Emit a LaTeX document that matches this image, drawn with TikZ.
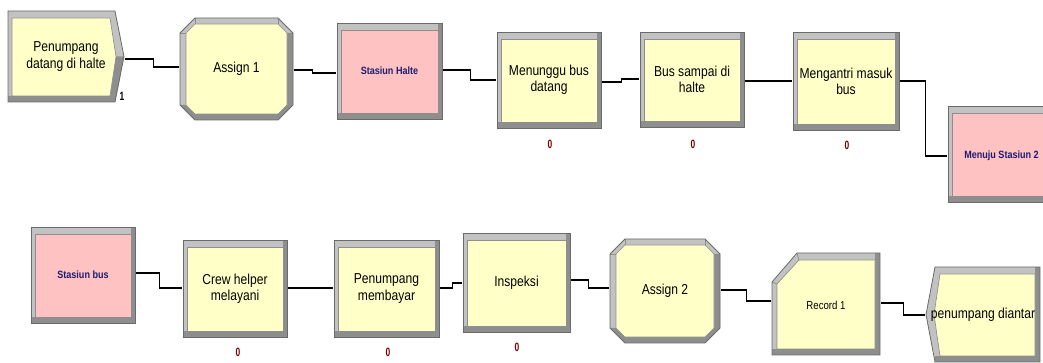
\documentclass[tikz,border=0pt]{standalone}
\usepackage{fontspec}
\newfontfamily\arenafont[FakeStretch=0.84]{Liberation Sans}
\newfontfamily\stnfont[FakeStretch=0.86]{Liberation Sans}
\newfontfamily\cntfont[FakeStretch=0.7]{Liberation Sans}
\usetikzlibrary{calc}

\definecolor{bevL}{HTML}{C2C2C2}
\definecolor{bevD}{HTML}{8E8E8E}
\definecolor{bevE}{HTML}{6A6A6A}
\definecolor{modY}{HTML}{FFFFC8}
\definecolor{modP}{HTML}{FFC2C2}
\definecolor{stnText}{HTML}{1C1C74}
\definecolor{cntText}{HTML}{7A0000}

\tikzset{
  modlabel/.style={shape=rectangle, inner sep=0pt, align=center, text=black,
    font=\arenafont\fontsize{10.8}{12.2}\selectfont},
  smalllabel/.style={modlabel, font=\arenafont\fontsize{8.6}{10}\selectfont},
  stnlabel/.style={modlabel, text=stnText, font=\stnfont\bfseries\fontsize{7.9}{9}\selectfont},
  cnt/.style={inner sep=0pt, text=cntText, font=\cntfont\bfseries\fontsize{9}{10}\selectfont},
  tag/.style={inner sep=0pt, text=black, font=\cntfont\bfseries\fontsize{9}{10}\selectfont},
  conn/.style={draw=black, line width=1.15pt},
  edge/.style={draw=bevE, line width=0.6pt},
  bevline/.style={draw=bevD, line width=0.5pt}
}

% text node covering a module's outline
\newcommand\modnode[7][modlabel]{%
  \pgfmathsetmacro\mw{(#5-#3)*0.75}%
  \pgfmathsetmacro\mh{(#6-#4)*0.75}%
  \node[#1, minimum width=\mw pt, minimum height=\mh pt] (#2) at ({(#3+#5)/2},{(#4+#6)/2}) {#7};}

% plain rectangular module with bevelled frame
\newcommand\rectmod[5]{%
  \fill[bevL] (#2,#3) rectangle (#4,#5);
  \fill[bevD] (#2,{#5-6}) rectangle (#4,#5);
  \fill[bevD] ({#4-4},#3) rectangle (#4,#5);
  \fill[#1, bevline] ({#2+4},{#3+7}) rectangle ({#4-4},{#5-6});
  \draw[edge] (#2,#3) rectangle (#4,#5);}

% octagonal assign module
\newcommand\octmod[4]{%
  \fill[bevL] ({#1+15},#2) -- ({#3-15},#2) -- (#3,{#2+15}) -- (#3,{#4-15}) -- ({#3-15},#4)
    -- ({#1+15},#4) -- (#1,{#4-15}) -- (#1,{#2+15}) -- cycle;
  \fill[bevD] (#3,{#2+15}) -- (#3,{#4-15}) -- ({#3-15},#4) -- ({#1+15},#4) -- (#1,{#4-15})
    -- ({#1+6},{#4-15}) -- ({#1+15},{#4-6}) -- ({#3-15},{#4-6}) -- ({#3-6},{#4-15})
    -- ({#3-6},{#2+15}) -- cycle;
  \fill[modY, bevline] ({#1+15},{#2+6}) -- ({#3-15},{#2+6}) -- ({#3-6},{#2+15}) -- ({#3-6},{#4-15})
    -- ({#3-15},{#4-6}) -- ({#1+15},{#4-6}) -- ({#1+6},{#4-15}) -- ({#1+6},{#2+15}) -- cycle;
  \draw[bevline] ({#1+15},#2) -- ({#1+15},{#2+6}) (#1,{#2+15}) -- ({#1+6},{#2+15})
    ({#3-15},#2) -- ({#3-15},{#2+6}) (#3,{#2+15}) -- ({#3-6},{#2+15})
    (#3,{#4-15}) -- ({#3-6},{#4-15}) ({#3-15},#4) -- ({#3-15},{#4-6})
    ({#1+15},#4) -- ({#1+15},{#4-6}) (#1,{#4-15}) -- ({#1+6},{#4-15});
  \draw[edge] ({#1+15},#2) -- ({#3-15},#2) -- (#3,{#2+15}) -- (#3,{#4-15}) -- ({#3-15},#4)
    -- ({#1+15},#4) -- (#1,{#4-15}) -- (#1,{#2+15}) -- cycle;}

% create module: body with a pointed right side
\newcommand\createmod[5]{%
  \pgfmathsetmacro\ym{(#2+#5)/2}%
  \fill[bevL] (#1,#2) -- (#3,#2) -- (#4,\ym) -- (#3,#5) -- (#1,#5) -- cycle;
  \fill[bevD] (#4,\ym) -- (#3,#5) -- (#1,#5) -- (#1,{#5-6}) -- ({#3-5},{#5-6}) -- ({#4-8},\ym) -- cycle;
  \fill[modY, bevline] ({#1+4},{#2+7}) -- ({#3-5},{#2+7}) -- ({#4-8},\ym) -- ({#3-5},{#5-6})
    -- ({#1+4},{#5-6}) -- cycle;
  \draw[edge] (#1,#2) -- (#3,#2) -- (#4,\ym) -- (#3,#5) -- (#1,#5) -- cycle;}

% record module: rectangle with a cut top-left corner
\newcommand\recordmod[4]{%
  \fill[bevL] (#1,{#2+29}) -- ({#1+25},#2) -- (#3,#2) -- (#3,#4) -- (#1,#4) -- cycle;
  \fill[bevD] (#1,{#4-6}) rectangle (#3,#4);
  \fill[bevD] ({#3-5},#2) rectangle (#3,#4);
  \fill[modY, bevline] ({#1+5},{#2+31}) -- ({#1+27},{#2+7}) -- ({#3-5},{#2+7}) -- ({#3-5},{#4-6})
    -- ({#1+5},{#4-6}) -- cycle;
  \draw[bevline] (#1,{#2+29}) -- ({#1+5},{#2+31}) ({#1+25},#2) -- ({#1+27},{#2+7});
  \draw[edge] (#1,{#2+29}) -- ({#1+25},#2) -- (#3,#2) -- (#3,#4) -- (#1,#4) -- cycle;}

% dispose module: notched left side
\newcommand\disposemod[5]{%
  \pgfmathsetmacro\ym{(#3+#5)/2}%
  \fill[bevL] (#2,#3) -- (#4,#3) -- (#4,#5) -- (#2,#5) -- (#1,\ym) -- cycle;
  \fill[bevD] (#2,{#5-6}) rectangle (#4,#5);
  \fill[bevD] ({#4-5},#3) rectangle (#4,#5);
  \fill[modY, bevline] ({#2+5},{#3+7}) -- ({#4-5},{#3+7}) -- ({#4-5},{#5-6}) -- ({#2+5},{#5-6})
    -- ({#1+8},\ym) -- cycle;
  \draw[edge] (#2,#3) -- (#4,#3) -- (#4,#5) -- (#2,#5) -- (#1,\ym) -- cycle;}

% stepped connector from one module to the next
\newcommand\link[5]{%
  \draw[conn] ($(#1.east)+(1,#2)$) -- ++(#3,0) |- ($(#4.west)+(-1,#5)$);}

\begin{document}
\begin{tikzpicture}[x=0.75pt, y=-0.75pt]
\useasboundingbox (0,0) rectangle (1043,363);
\clip (0,0) rectangle (1043,363);

% ---- upper line: arrival at the stop ----
\createmod{8}{11}{115}{124}{102}
\modnode{arrive}{8}{11}{124}{102}{Penumpang\\datang di halte}
\node[tag] (batch) at (122,96) {1};

\octmod{180}{18}{293}{120}
\modnode{assignA}{180}{18}{293}{120}{Assign 1}

\rectmod{modP}{337}{23}{442}{119}
\modnode[stnlabel]{stHalte}{337}{23}{442}{119}{Stasiun Halte}

\rectmod{modY}{497}{32}{601}{128}
\modnode{wait}{497}{32}{601}{128}{Menunggu bus\\datang}
\node[cnt] (cntWait) at (550,144) {0};

\rectmod{modY}{640}{32}{744}{127}
\modnode{busArr}{640}{32}{744}{127}{Bus sampai di\\halte}
\node[cnt] (cntBus) at (693,144) {0};

\rectmod{modY}{793}{32}{899}{130}
\modnode{queue}{793}{32}{899}{130}{Mengantri masuk\\bus}
\node[cnt] (cntQueue) at (847,145) {0};

\rectmod{modP}{948}{106}{1070}{202}
\modnode[stnlabel]{toSt2}{948}{108}{1055}{204}{Menuju Stasiun 2}

% ---- lower line: on the bus ----
\rectmod{modP}{31}{227}{135}{323}
\modnode[stnlabel]{stBus}{31}{227}{135}{323}{Stasiun bus}

\rectmod{modY}{183}{240}{287}{337}
\modnode{crew}{183}{240}{287}{337}{Crew helper\\melayani}
\node[cnt] (cntCrew) at (238,352) {0};

\rectmod{modY}{334}{240}{439}{337}
\modnode{pay}{334}{240}{439}{337}{Penumpang\\membayar}
\node[cnt] (cntPay) at (388,352) {0};

\rectmod{modY}{463}{233}{570}{332}
\modnode{insp}{463}{233}{570}{332}{Inspeksi}
\node[cnt] (cntInsp) at (517,347) {0};

\octmod{610}{239}{720}{343}
\modnode{assignB}{610}{239}{720}{343}{Assign 2}

\recordmod{772}{253}{880}{355}
\modnode[smalllabel]{rec}{772}{253}{880}{357}{Record 1}

\disposemod{926}{935}{267}{1040}{362}
\modnode{leave}{926}{267}{1040}{362}{penumpang diantar}

% ---- connectors ----
\link{arrive}{2.5}{28}{assignA}{-2}
\link{assignA}{1}{18}{stHalte}{2}
\link{stHalte}{-1}{27}{wait}{0}
\link{wait}{2}{19}{busArr}{-0.5}
\link{busArr}{1.5}{20}{queue}{0}
\link{queue}{0}{25}{toSt2}{0}
\link{stBus}{-2}{23}{crew}{-0.5}
\link{crew}{-0.5}{20}{pay}{-0.5}
\link{pay}{-0.5}{12}{insp}{0.5}
\link{insp}{-2.5}{17}{assignB}{-3}
\link{assignB}{-1}{25}{rec}{-4}
\link{rec}{-2}{22}{leave}{0.5}
\end{tikzpicture}
\end{document}
